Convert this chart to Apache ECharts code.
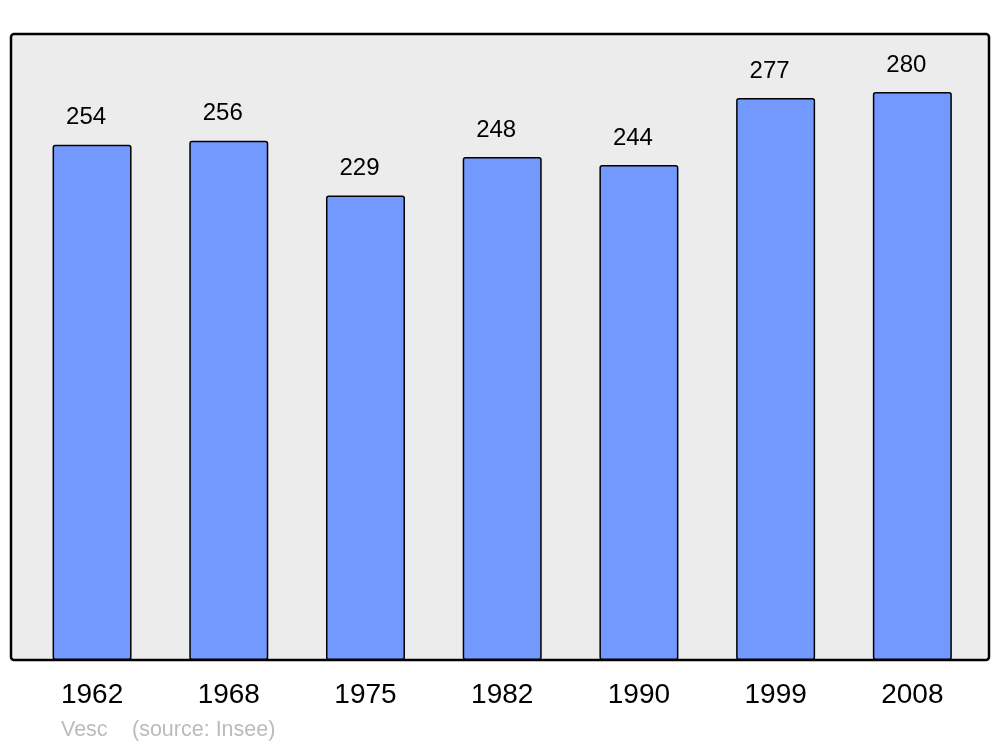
<!DOCTYPE html>
<html><head><meta charset="utf-8">
<script src="https://cdn.jsdelivr.net/npm/echarts@6/dist/echarts.min.js"></script>
<style>html,body{margin:0;padding:0;background:#fff}#c{width:1000px;height:747px}</style>
</head><body><div id="c"></div>
<script>
var years = ['1962','1968','1975','1982','1990','1999','2008'];
var population = [254, 256, 229, 248, 244, 277, 280];
var sourceName = 'Vesc';
var sourceNote = '(source: Insee)';

var chart = echarts.init(document.getElementById('c'), null, {renderer: 'canvas'});
chart.setOption({
  animation: false,
  backgroundColor: '#ffffff',
  textStyle: {fontFamily: 'Liberation Sans, Arial, sans-serif'},
  grid: {left: 23.7, right: 19.3, top: 34, bottom: 87},
  xAxis: {
    type: 'category', data: years,
    axisLine: {show: false}, axisTick: {show: false},
    axisLabel: {fontSize: 28, color: '#000', margin: 21, fontFamily: 'Liberation Sans, Arial, sans-serif'}
  },
  yAxis: {type: 'value', min: 0, max: 308.6, show: false, splitLine: {show: false}},
  graphic: [
    {type: 'rect', z: -10, shape: {x: 11, y: 34, width: 978, height: 626, r: 3},
     style: {fill: '#ececec', stroke: '#000', lineWidth: 2.5}},
    {type: 'text', left: 61, top: 719, style: {text: sourceName, fontSize: 21.5, fill: '#bbbbbb', fontFamily: 'Liberation Sans, Arial, sans-serif'}},
    {type: 'text', left: 132, top: 719, style: {text: sourceNote, fontSize: 21.5, fill: '#bbbbbb', fontFamily: 'Liberation Sans, Arial, sans-serif'}}
  ],
  series: [{
    type: 'bar', data: population, barWidth: 79,
    itemStyle: {color: '#7399ff', borderColor: '#000', borderWidth: 1.5, borderRadius: 2},
    label: {show: true, position: 'top', distance: 15, offset: [-6, 0], fontSize: 24, color: '#000',
      fontFamily: 'Liberation Sans, Arial, sans-serif'}
  }]
});
</script></body></html>
